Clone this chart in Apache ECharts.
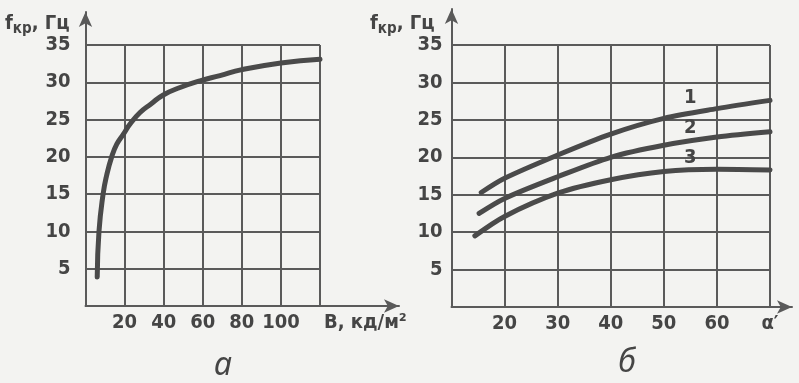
<!DOCTYPE html>
<html><head><meta charset="utf-8">
<script src="https://cdn.jsdelivr.net/npm/echarts@6/dist/echarts.min.js"></script>
<style>html,body{margin:0;padding:0;background:#f3f3f1}#c{width:799px;height:383px}</style>
</head><body><div id="c"></div>
<script>
// Chart а: critical frequency vs luminance
const luminance = [6.0, 6.9, 9.0, 10.8, 13.4, 16, 19.4, 22.8, 27.9, 33.5, 39.8, 48.4, 58.6, 68.8, 80, 100, 120];
const freqA     = [3.9, 10.0, 15.0, 17.5, 20.0, 21.7, 23.05, 24.4, 25.95, 27.1, 28.3, 29.3, 30.2, 30.9, 31.7, 32.6, 33.1];
// Chart б: critical frequency vs angle, three curves
const alpha1 = [15.6, 20, 30, 40, 50, 60, 70];
const freq1  = [15.3, 17.2, 20.3, 23.1, 25.2, 26.5, 27.6];
const alpha2 = [15.2, 20, 30, 40, 50, 60, 70];
const freq2  = [12.5, 14.5, 17.4, 20.0, 21.6, 22.7, 23.4];
const alpha3 = [14.4, 20, 30, 40, 50, 60, 70];
const freq3  = [9.5, 12.1, 15.2, 17.0, 18.1, 18.4, 18.3];
const curveNames = ['1', '2', '3'];
const curveLabelAlpha = 55;
const curveLabelFreq = [28.0, 23.9, 19.9];
const yTitle = 'fкр, Гц';
const xNameA = 'B, кд/м²';
const xLastB = 'α′';
const captions = ['а', 'б'];

const FONT = '"DejaVu Sans Condensed", "DejaVu Sans"';
const INK = '#454545';
const GRIDC = '#5a5a5a';
const zip = (xs, ys) => xs.map((x, i) => [x, ys[i]]);

const chart = echarts.init(document.getElementById('c'), null, {renderer: 'canvas'});

const lbl = (extra) => Object.assign({color: INK, fontFamily: FONT, fontSize: 20, fontWeight: 'bold'}, extra);

const mainX = (gi, min, max, interval, extra) => Object.assign({
  type: 'value', gridIndex: gi, min, max, interval,
  axisLine: {show: false}, axisTick: {show: false},
  splitLine: {show: true, lineStyle: {color: GRIDC, width: 2}}
}, extra);
const mainY = (gi, margin) => ({
  type: 'value', gridIndex: gi, min: 0, max: 35, interval: 5,
  axisLine: {show: false}, axisTick: {show: false},
  splitLine: {show: true, lineStyle: {color: GRIDC, width: 2}},
  axisLabel: lbl({margin, showMinLabel: false})
});
const arrowAxis = (gi) => ({
  type: 'value', gridIndex: gi, min: 0, max: 1,
  axisLine: {show: true, onZero: false, symbol: ['none', 'arrow'], symbolSize: [10, 15],
             lineStyle: {color: GRIDC, width: 2}},
  axisTick: {show: false}, axisLabel: {show: false}, splitLine: {show: false}
});

const lineSeries = (xi, data, smooth, extra) => Object.assign({
  type: 'line', xAxisIndex: xi, yAxisIndex: xi, data, smooth,
  showSymbol: false, symbol: 'none',
  lineStyle: {color: '#4a4a4a', width: 5, cap: 'round', join: 'round'}, silent: true
}, extra);

const numLabel = (i) => ({
  markPoint: {
    symbol: 'circle', symbolSize: 1, itemStyle: {color: 'rgba(0,0,0,0)'}, silent: true,
    label: lbl({show: true, position: 'inside', formatter: curveNames[i]}),
    data: [{coord: [curveLabelAlpha, curveLabelFreq[i]]}]
  }
});

const titleRich = {
  f: lbl({verticalAlign: 'bottom', lineHeight: 24}),
  s: lbl({fontSize: 15, verticalAlign: 'bottom', lineHeight: 24, padding: [0, 0, -3, 0]})
};
const yTitleText = '{f|' + yTitle.charAt(0) + '}{s|' + yTitle.slice(1, 3) + '}{f|' + yTitle.slice(3) + '}';
const capStyle = {fontFamily: 'Noto Sans', fontStyle: 'italic', fontWeight: 'normal', fontSize: 32, color: INK};

chart.setOption({
  backgroundColor: '#f3f3f1',
  animation: false,
  title: [
    {text: yTitleText, left: 0, top: 5, textStyle: {fontWeight: 'bold', rich: titleRich}},
    {text: yTitleText, left: 365, top: 5, textStyle: {fontWeight: 'bold', rich: titleRich}},
    {text: captions[0], left: 209, top: 345, textStyle: capStyle},
    {text: captions[1], left: 613, top: 342, textStyle: capStyle}
  ],
  grid: [
    {left: 85.5, right: 479, top: 45, bottom: 77, outerBoundsMode: 'none'},
    {left: 85.5, right: 400, top: 12, bottom: 77, outerBoundsMode: 'none'},
    {left: 451.5, right: 29, top: 45, bottom: 76, outerBoundsMode: 'none'},
    {left: 451.5, right: 7, top: 9, bottom: 76, outerBoundsMode: 'none'}
  ],
  xAxis: [
    mainX(0, 0, 120, 20, {
      name: xNameA, nameLocation: 'end', nameGap: 4,
      nameTextStyle: lbl({align: 'left', verticalAlign: 'top', padding: [7, 0, 0, 0]}),
      axisLabel: lbl({margin: 7, showMinLabel: false, showMaxLabel: false})
    }),
    arrowAxis(1),
    mainX(2, 10, 70, 10, {
      axisLabel: lbl({margin: 7, showMinLabel: false,
                  formatter: v => v === 70 ? xLastB : String(v)})
    }),
    arrowAxis(3)
  ],
  yAxis: [
    mainY(0, 15),
    arrowAxis(1),
    mainY(2, 9),
    arrowAxis(3)
  ],
  series: [
    lineSeries(0, zip(luminance, freqA), 0.5),
    lineSeries(2, zip(alpha1, freq1), 0.3, numLabel(0)),
    lineSeries(2, zip(alpha2, freq2), 0.3, numLabel(1)),
    lineSeries(2, zip(alpha3, freq3), 0.3, numLabel(2))
  ]
});
</script></body></html>
